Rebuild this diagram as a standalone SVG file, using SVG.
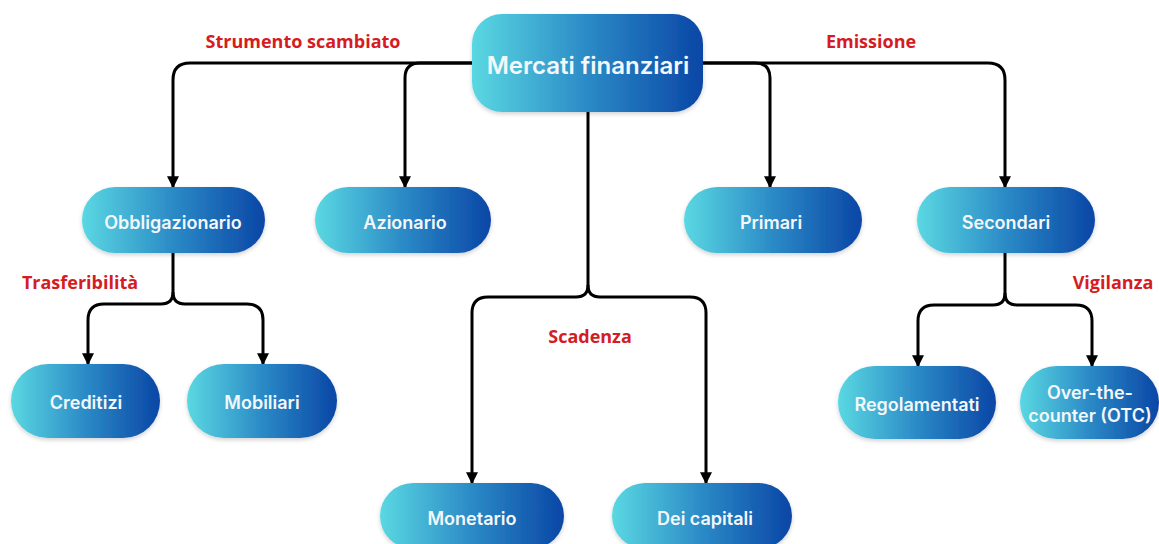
<svg xmlns="http://www.w3.org/2000/svg" width="1159" height="544" viewBox="0 0 1159 544">
  <defs>
    <linearGradient id="pill" x1="0" y1="0" x2="1" y2="0">
      <stop offset="0" stop-color="#5ad8e2"/>
      <stop offset="0.5" stop-color="#2b8ac6"/>
      <stop offset="1" stop-color="#0a46a6"/>
    </linearGradient>
    <marker id="arrow" viewBox="0 0 10 10" refX="9" refY="5" markerWidth="4" markerHeight="4" orient="auto" markerUnits="strokeWidth">
      <path d="M0,0 L10,5 L0,10 Z" fill="#000"/>
    </marker>
    <filter id="shadow" x="-10%" y="-10%" width="120%" height="130%">
      <feDropShadow dx="0" dy="2" stdDeviation="2" flood-color="#000" flood-opacity="0.18"/>
    </filter>
  </defs>
  <style>
    .node rect { fill: url(#pill); filter: url(#shadow); }
    .node text { fill: #f4f8fb; font-family: Inter, "Noto Sans", sans-serif; font-weight: 600; font-size: 18px; text-anchor: middle; dominant-baseline: central; }
    .conn path { fill: none; stroke: #000; stroke-width: 3; stroke-linejoin: round; }
    .conn path.arr { marker-end: url(#arrow); }
    .label { fill: #d41c22; font-family: "Open Sans", "Noto Sans", sans-serif; font-weight: 700; font-size: 18px; text-anchor: middle; }
  </style>

  <rect width="1159" height="544" fill="#ffffff"/>

  <!-- connectors -->
  <g id="connectors" class="conn">
    <!-- top bar from root -->
    <path d="M472,63 H190 Q173,63 173,80 V187" class="arr"/>
    <path d="M472,63 H420 Q405,63 405,78 V187" class="arr"/>
    <path d="M703,63 H755 Q770,63 770,78 V187" class="arr"/>
    <path d="M703,63 H988 Q1005,63 1005,80 V187" class="arr"/>
    <!-- root down to Scadenza split -->
    <path d="M588,112 V285 Q588,297 576,297 H488 Q472,297 472,313 V483" class="arr"/>
    <path d="M588,285 Q588,297 600,297 H690 Q706,297 706,313 V483" class="arr"/>
    <!-- Obbligazionario split -->
    <path d="M173,253 V292 Q173,304 161,304 H104 Q88,304 88,320 V364" class="arr"/>
    <path d="M173,292 Q173,304 185,304 H247 Q263,304 263,320 V364" class="arr"/>
    <!-- Secondari split -->
    <path d="M1005,253 V293 Q1005,305 993,305 H934 Q918,305 918,321 V366" class="arr"/>
    <path d="M1005,293 Q1005,305 1017,305 H1076 Q1092,305 1092,321 V366" class="arr"/>
  </g>

  <!-- category labels -->
  <text class="label" x="303" y="48">Strumento scambiato</text>
  <text class="label" x="871" y="48">Emissione</text>
  <text class="label" x="80" y="289">Trasferibilità</text>
  <text class="label" x="590" y="343">Scadenza</text>
  <text class="label" x="1113" y="289">Vigilanza</text>

  <!-- nodes -->
  <g id="root" class="node">
    <rect x="472" y="14" width="231" height="98" rx="30"/>
    <text x="588" y="65" style="font-size:24px">Mercati finanziari</text>
  </g>
  <g id="obbligazionario" class="node">
    <rect x="82" y="187" width="183" height="66" rx="33"/>
    <text x="173" y="222">Obbligazionario</text>
  </g>
  <g id="azionario" class="node">
    <rect x="315" y="187" width="176" height="66" rx="33"/>
    <text x="405" y="222">Azionario</text>
  </g>
  <g id="primari" class="node">
    <rect x="684" y="187" width="178" height="66" rx="33"/>
    <text x="771" y="222">Primari</text>
  </g>
  <g id="secondari" class="node">
    <rect x="917" y="187" width="178" height="66" rx="33"/>
    <text x="1006" y="222">Secondari</text>
  </g>
  <g id="creditizi" class="node">
    <rect x="11" y="364" width="149" height="74" rx="37"/>
    <text x="86" y="402">Creditizi</text>
  </g>
  <g id="mobiliari" class="node">
    <rect x="187" y="364" width="150" height="74" rx="37"/>
    <text x="262" y="402">Mobiliari</text>
  </g>
  <g id="monetario" class="node">
    <rect x="380" y="483" width="184" height="66" rx="33"/>
    <text x="472" y="518">Monetario</text>
  </g>
  <g id="dei-capitali" class="node">
    <rect x="612" y="483" width="180" height="66" rx="33"/>
    <text x="705" y="518">Dei capitali</text>
  </g>
  <g id="regolamentati" class="node">
    <rect x="838" y="366" width="158" height="73" rx="36.5"/>
    <text x="917" y="404">Regolamentati</text>
  </g>
  <g id="otc" class="node">
    <rect x="1020" y="366" width="139" height="73" rx="36.5"/>
    <text x="1090" y="392">Over-the-</text>
    <text x="1090" y="415">counter (OTC)</text>
  </g>
</svg>
